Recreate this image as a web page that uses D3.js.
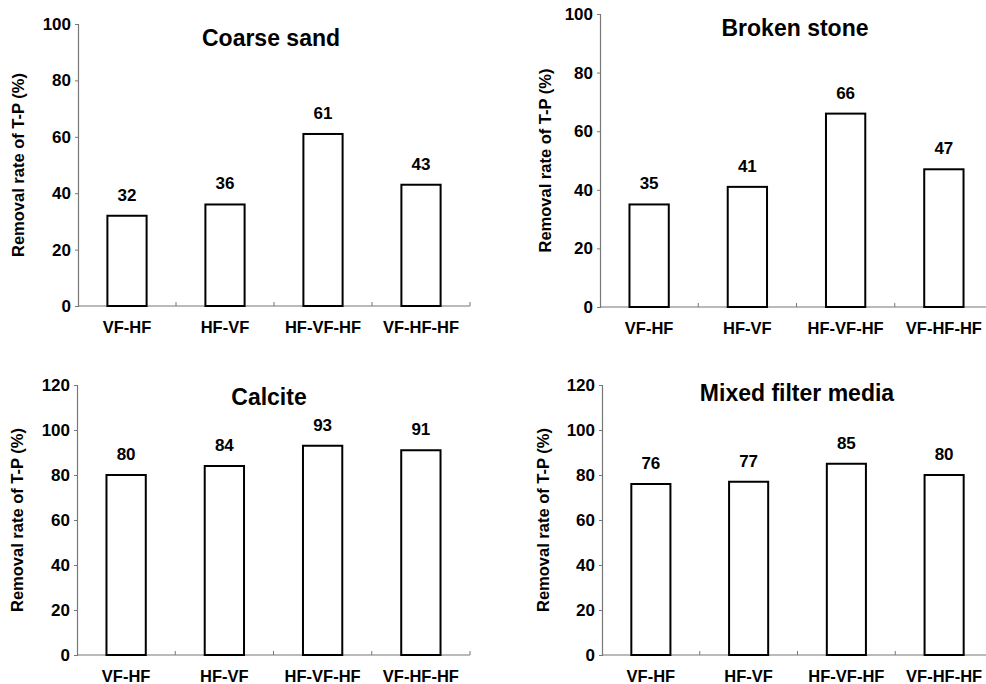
<!DOCTYPE html>
<html>
<head>
<meta charset="utf-8">
<script src="https://d3js.org/d3.v7.min.js"></script>
<style>
  body { margin: 0; background: #fff; }
  text { font-family: Arial, "Liberation Sans", sans-serif; font-weight: bold; fill: #000; }
</style>
</head>
<body>
<script>
"use strict";

let width = 986;
let height = 684;

// data
let categories = ["VF-HF", "HF-VF", "HF-VF-HF", "VF-HF-HF"];
let titles = ["Coarse sand", "Broken stone", "Calcite", "Mixed filter media"];
let coarseSand = [32, 36, 61, 43];
let brokenStone = [35, 41, 66, 47];
let calcite = [80, 84, 93, 91];
let mixedMedia = [76, 77, 85, 80];
let ticksTop = [0, 20, 40, 60, 80, 100];
let ticksBottom = [0, 20, 40, 60, 80, 100, 120];
let yLabel = "Removal rate of T-P (%)";

// panel layout (plot box + where the title / y label sit)
let panels = [
  { values: coarseSand,  ticks: ticksTop,    left: 78,  right: 470, top: 24,  bottom: 306, titleX: 271, titleY: 46,  labelX: 18 },
  { values: brokenStone, ticks: ticksTop,    left: 600, right: 993, top: 14,  bottom: 307, titleX: 795, titleY: 36,  labelX: 545 },
  { values: calcite,     ticks: ticksBottom, left: 77,  right: 470, top: 385, bottom: 655, titleX: 269, titleY: 405, labelX: 17 },
  { values: mixedMedia,  ticks: ticksBottom, left: 602, right: 993, top: 385, bottom: 655, titleX: 797, titleY: 401, labelX: 543 }
];

let svg = d3.select("body").append("svg").attr("width", width).attr("height", height);

panels.forEach(function (p, i) {
  let g = svg.append("g");
  let yMax = p.ticks[p.ticks.length - 1];

  let x = d3.scaleBand()
    .domain(categories)
    .range([p.left, p.right])
    .paddingInner(0.6)
    .paddingOuter(0.3);

  let y = d3.scaleLinear()
    .domain([0, yMax])
    .range([p.bottom, p.top]);

  // y axis
  let yAxis = g.append("g")
    .attr("transform", "translate(" + p.left + ",0)")
    .call(d3.axisLeft(y).tickValues(p.ticks).tickSize(3).tickPadding(4));
  yAxis.select(".domain").attr("stroke", "#777").attr("stroke-width", 1.2);
  yAxis.selectAll(".tick line").attr("stroke", "#777");
  yAxis.selectAll(".tick text")
    .style("font-family", "Arial, 'Liberation Sans', sans-serif")
    .style("font-weight", "bold")
    .style("font-size", "17px")
    .attr("fill", "#000");

  // x axis line with small inward ticks at band edges
  g.append("line")
    .attr("x1", p.left).attr("x2", p.right)
    .attr("y1", y(0)).attr("y2", y(0))
    .attr("stroke", "#777").attr("stroke-width", 1.2);

  let edges = d3.range(1, categories.length + 1).map(function (k) { return p.left + k * x.step(); });
  g.selectAll(".xtick")
    .data(edges)
    .enter()
    .append("line")
    .attr("x1", function (d) { return d; })
    .attr("x2", function (d) { return d; })
    .attr("y1", y(0))
    .attr("y2", y(0) - 4)
    .attr("stroke", "#777");

  g.selectAll(".xlabel")
    .data(categories)
    .enter()
    .append("text")
    .attr("x", function (d) { return x(d) + x.bandwidth() / 2; })
    .attr("y", y(0) + 27)
    .attr("text-anchor", "middle")
    .style("font-size", "16.5px")
    .text(function (d) { return d; });

  // bars
  g.selectAll(".bar")
    .data(p.values)
    .enter()
    .append("rect")
    .attr("x", function (d, k) { return x(categories[k]); })
    .attr("y", function (d) { return y(d); })
    .attr("width", x.bandwidth())
    .attr("height", function (d) { return y(0) - y(d); })
    .attr("fill", "#fff")
    .attr("stroke", "#000")
    .attr("stroke-width", 2);

  g.selectAll(".val")
    .data(p.values)
    .enter()
    .append("text")
    .attr("x", function (d, k) { return x(categories[k]) + x.bandwidth() / 2; })
    .attr("y", function (d) { return y(d) - 15; })
    .attr("text-anchor", "middle")
    .style("font-size", "17px")
    .text(function (d) { return d; });

  // title
  g.append("text")
    .attr("x", p.titleX)
    .attr("y", p.titleY)
    .attr("text-anchor", "middle")
    .style("font-size", "23px")
    .text(titles[i]);

  // y label
  g.append("text")
    .attr("transform", "translate(" + p.labelX + "," + ((p.top + p.bottom) / 2) + ") rotate(-90)")
    .attr("text-anchor", "middle")
    .attr("dominant-baseline", "central")
    .style("font-size", "16.5px")
    .text(yLabel);
});
</script>
</body>
</html>
